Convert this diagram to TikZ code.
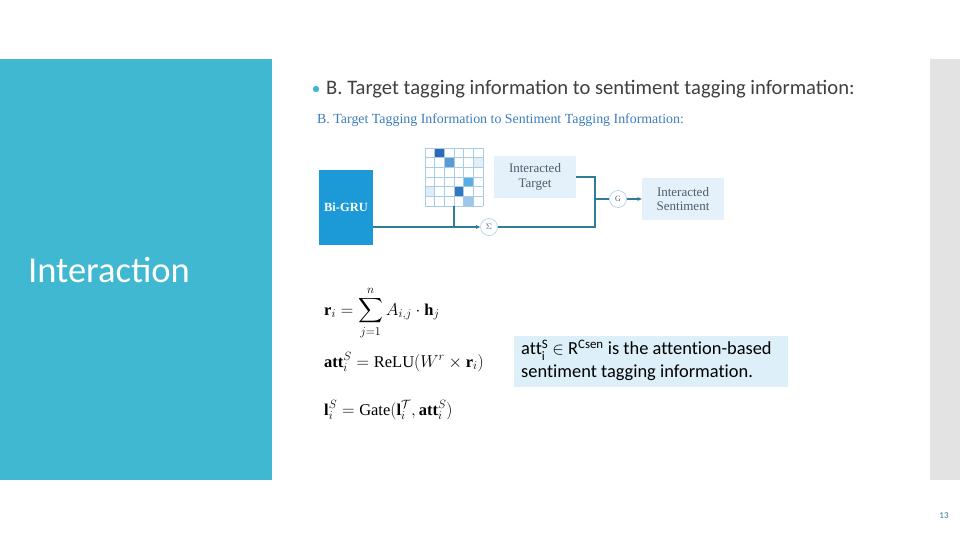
\documentclass[tikz,border=0pt]{standalone}
\usepackage{amsmath}
\usepackage{fontspec}
\setmainfont{Carlito}
\setmathrm{Liberation Serif}
\newfontfamily\diagserif{Liberation Serif}
\usetikzlibrary{arrows.meta}
\definecolor{panelteal}{HTML}{40B8D2}
\definecolor{stripgrey}{HTML}{E3E3E3}
\definecolor{headblue}{HTML}{3C7DBE}
\definecolor{grublue}{HTML}{1C9AD8}
\definecolor{boxblue}{HTML}{E4F1FA}
\definecolor{boxtext}{HTML}{4D5E70}
\definecolor{linecol}{HTML}{2F7E98}
\definecolor{gridcol}{HTML}{A8CCE6}
\definecolor{notebox}{HTML}{DDEFF8}
\definecolor{bodytext}{HTML}{404040}
\tikzset{
  conn/.style={draw=linecol, line width=1.1pt},
  arr/.style={-{Stealth[length=4.5pt,width=4pt]}},
  lightbox/.style={fill=boxblue, draw=none, minimum width=82pt, minimum height=42pt, align=center, font=\diagserif\fontsize{13}{14.5}\selectfont, text=boxtext},
  opcirc/.style={circle, draw=gridcol, line width=0.6pt, fill=white, minimum size=17pt, inner sep=0pt, font=\diagserif\fontsize{8}{8}\selectfont, text=boxtext},
  cell/.style={draw=gridcol, line width=0.6pt},
  eqn/.style={anchor=west, inner sep=0pt, font=\fontsize{16.5}{18}\selectfont},
}
\begin{document}
\begin{tikzpicture}[x=1pt,y=-1pt]
\useasboundingbox (0,0) rectangle (960,540);
\fill[white] (0,0) rectangle (960,540);
% side panels
\fill[panelteal] (0,59) rectangle (272,480);
\fill[stripgrey] (930,59) rectangle (960,480);
\node[anchor=west, text=white, font=\fontsize{36.5}{40}\selectfont, inner sep=0pt] (title) at (28,270) {Interaction};
% bullet heading
\fill[panelteal] (316,89) circle (3.2pt);
\node[anchor=west, text=bodytext, font=\fontsize{20.6}{24}\selectfont, inner sep=0pt] (bullet) at (326,89) {B. Target tagging information to sentiment tagging information:};
% figure heading
\node[anchor=west, text=headblue, font=\diagserif\fontsize{13.9}{15}\selectfont, inner sep=0pt] (fighead) at (317,120.5) {B. Target Tagging Information to Sentiment Tagging Information:};
% Bi-GRU
\node[fill=grublue, minimum width=54pt, minimum height=75pt, text=white, font=\diagserif\bfseries\fontsize{12.5}{15}\selectfont, inner sep=0pt] (bigru) at (346,207.5) {Bi-GRU};
% matrix
\node[minimum width=58pt, minimum height=58pt, inner sep=0pt] (mat) at (454,177) {};
\foreach \r/\c/\col in {1/2/2A6BB5, 2/3/5B9BD2, 2/6/E2EFF9, 4/5/58AEE2, 5/1/DCEDF8, 5/4/3277C0, 6/5/9EC6EA}{
  \definecolor{tmpc}{HTML}{\col}
  \fill[tmpc] ({425+(\c-1)*58/6},{148+(\r-1)*58/6}) rectangle ++(58/6,58/6);
}
\foreach \i in {0,...,6}{
  \draw[cell] ({425+\i*58/6},148) -- ({425+\i*58/6},206);
  \draw[cell] (425,{148+\i*58/6}) -- (483,{148+\i*58/6});
}
% boxes
\node[lightbox] (tgt) at (535,177) {Interacted\\Target};
\node[lightbox] (sent) at (683,199) {Interacted\\Sentiment};
% operators
\node[opcirc] (sig) at (489,227) {$\Sigma$};
\node[opcirc] (gate) at (618,199) {G};
\coordinate (jb) at (595,227);
\coordinate (jt) at (595,177);
\coordinate (jm) at (595,199);
% connectors
\draw[conn,arr] (bigru.east |- sig) -- (sig.west);
\draw[conn] (mat.south) -- (mat.south |- sig);
\draw[conn] (sig.east) -- (jb) -- (jt) -- (tgt.east);
\draw[conn] (jm) -- (gate.west);
\draw[conn,arr] (gate.east) -- (sent.west);
% equations
\node[eqn] (eq1) at (324,313) {$\displaystyle \mathbf{r}_i = \sum_{j=1}^{n} A_{i,j}\cdot \mathbf{h}_j$};
\node[eqn] (eq2) at (324,362) {$\mathbf{att}_i^{S} = \mathrm{ReLU}(W^{r}\times \mathbf{r}_i)$};
\node[eqn] (eq3) at (324,410) {$\mathbf{l}_i^{S} = \mathrm{Gate}(\mathbf{l}_i^{\mathcal{T}}, \mathbf{att}_i^{S})$};
% note box
\node[fill=notebox, anchor=north west, minimum width=274pt, minimum height=51pt, inner sep=0pt] (note) at (514,336) {};
\node[anchor=north west, align=left, text=black, font=\addfontfeatures{Ligatures=NoCommon}\fontsize{18.4}{23}\selectfont, inner sep=0pt] (notetext) at (521,340) {att$^{\text{S}}_{\text{i}}$ $\in$ R$^{\text{Csen}}$ is the attention-based\\sentiment tagging information.};
% page number
\node[text=linecol, font=\fontsize{9}{10}\selectfont] (pnum) at (944,516) {13};
\end{tikzpicture}
\end{document}
